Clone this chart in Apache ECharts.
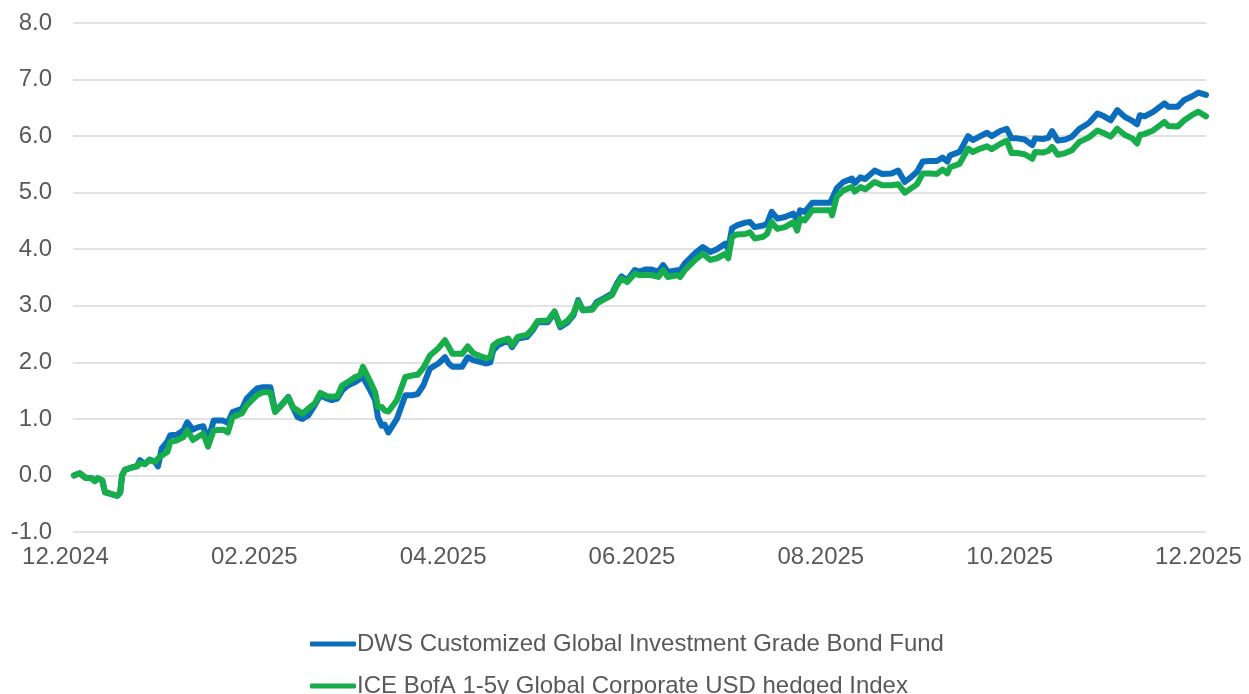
<!DOCTYPE html>
<html>
<head>
<meta charset="utf-8">
<script src="https://cdn.jsdelivr.net/npm/echarts@6/dist/echarts.min.js"></script>
<style>
html,body{margin:0;padding:0;background:#fff;}
#chart{width:1249px;height:694px;}
</style>
</head>
<body>
<div id="chart"></div>
<script>
// x positions in months since 12.2024
const months = [0.01,0.07,0.13,0.20,0.23,0.26,0.31,0.34,0.39,0.47,0.50,0.52,0.55,0.62,0.68,0.71,0.76,0.81,0.87,0.90,0.94,1.00,1.03,1.10,1.17,1.21,1.27,1.32,1.38,1.43,1.49,1.59,1.64,1.69,1.79,1.84,1.90,1.95,2.01,2.09,2.14,2.19,2.28,2.33,2.38,2.43,2.49,2.56,2.62,2.69,2.74,2.80,2.85,2.91,2.99,3.04,3.07,3.15,3.20,3.23,3.27,3.30,3.34,3.43,3.52,3.60,3.65,3.71,3.78,3.87,3.94,3.98,4.02,4.12,4.18,4.24,4.33,4.38,4.42,4.45,4.50,4.61,4.65,4.71,4.81,4.87,4.92,5.03,5.10,5.16,5.24,5.30,5.35,5.40,5.50,5.55,5.61,5.71,5.76,5.81,5.87,5.95,6.00,6.06,6.13,6.20,6.25,6.30,6.40,6.43,6.48,6.59,6.67,6.75,6.82,6.91,6.94,6.98,7.03,7.12,7.17,7.22,7.31,7.35,7.40,7.46,7.54,7.63,7.67,7.70,7.75,7.83,7.91,8.02,8.04,8.09,8.16,8.25,8.28,8.34,8.39,8.49,8.57,8.67,8.74,8.81,8.88,8.94,9.00,9.08,9.15,9.21,9.26,9.29,9.39,9.48,9.53,9.61,9.68,9.73,9.82,9.89,9.94,10.00,10.08,10.16,10.19,10.27,10.33,10.37,10.43,10.51,10.58,10.66,10.74,10.77,10.85,10.92,10.99,11.06,11.14,11.22,11.27,11.30,11.35,11.44,11.56,11.60,11.70,11.77,11.85,11.92,12.00];

const dwsFund = [0.0,0.04,-0.04,-0.05,-0.1,-0.05,-0.09,-0.3,-0.32,-0.36,-0.3,0.0,0.1,0.14,0.17,0.27,0.2,0.28,0.24,0.16,0.48,0.6,0.71,0.72,0.8,0.94,0.81,0.85,0.87,0.62,0.97,0.97,0.93,1.12,1.18,1.36,1.46,1.54,1.56,1.56,1.15,1.21,1.39,1.2,1.03,1.0,1.06,1.24,1.42,1.36,1.33,1.36,1.5,1.59,1.65,1.71,1.74,1.5,1.33,1.03,0.88,0.9,0.76,1.0,1.42,1.42,1.44,1.59,1.89,1.98,2.09,1.98,1.92,1.92,2.09,2.04,2.0,1.98,2.0,2.21,2.3,2.39,2.27,2.42,2.45,2.57,2.71,2.71,2.89,2.62,2.71,2.83,3.1,2.92,2.95,3.07,3.12,3.22,3.39,3.52,3.45,3.63,3.6,3.64,3.64,3.6,3.72,3.6,3.63,3.62,3.75,3.93,4.04,3.95,4.0,4.1,4.0,4.37,4.42,4.47,4.48,4.39,4.42,4.45,4.66,4.54,4.57,4.63,4.51,4.69,4.66,4.82,4.82,4.82,4.81,5.08,5.19,5.25,5.17,5.27,5.24,5.39,5.33,5.34,5.39,5.19,5.28,5.37,5.55,5.56,5.56,5.62,5.55,5.66,5.72,6.0,5.93,6.0,6.06,6.0,6.09,6.13,5.96,5.96,5.94,5.84,5.96,5.95,5.97,6.09,5.92,5.94,5.99,6.13,6.21,6.25,6.4,6.35,6.28,6.46,6.34,6.27,6.21,6.37,6.35,6.43,6.58,6.52,6.52,6.64,6.7,6.77,6.73];

const iceIndex = [0.0,0.04,-0.04,-0.05,-0.1,-0.05,-0.09,-0.3,-0.32,-0.36,-0.3,0.0,0.1,0.14,0.16,0.22,0.2,0.27,0.24,0.3,0.35,0.42,0.59,0.62,0.68,0.8,0.63,0.68,0.74,0.51,0.8,0.81,0.76,1.03,1.1,1.24,1.34,1.42,1.47,1.47,1.12,1.21,1.38,1.2,1.15,1.09,1.18,1.27,1.46,1.4,1.39,1.4,1.59,1.65,1.74,1.77,1.92,1.65,1.47,1.21,1.21,1.15,1.13,1.33,1.74,1.77,1.78,1.9,2.12,2.25,2.39,2.27,2.15,2.15,2.28,2.16,2.1,2.07,2.09,2.3,2.36,2.42,2.3,2.45,2.49,2.6,2.73,2.74,2.9,2.65,2.74,2.86,3.08,2.92,2.93,3.04,3.1,3.19,3.36,3.48,3.42,3.57,3.54,3.55,3.54,3.51,3.63,3.51,3.54,3.51,3.63,3.81,3.92,3.81,3.84,3.92,3.84,4.22,4.26,4.27,4.3,4.19,4.22,4.27,4.48,4.36,4.39,4.48,4.33,4.54,4.51,4.69,4.69,4.69,4.6,4.93,5.04,5.1,5.02,5.1,5.06,5.19,5.13,5.13,5.15,5.0,5.08,5.15,5.34,5.34,5.33,5.41,5.34,5.45,5.51,5.78,5.72,5.78,5.82,5.77,5.86,5.92,5.7,5.7,5.68,5.6,5.72,5.71,5.74,5.81,5.67,5.7,5.75,5.9,5.96,5.99,6.1,6.05,5.99,6.13,6.02,5.96,5.87,6.02,6.04,6.1,6.25,6.18,6.17,6.28,6.37,6.43,6.35];

const xTickLabels = ['12.2024','02.2025','04.2025','06.2025','08.2025','10.2025','12.2025'];
const seriesNames = ['DWS Customized Global Investment Grade Bond Fund','ICE BofA 1-5y Global Corporate USD hedged Index'];
const seriesColors = ['#0a6ebd', '#17ad4b'];

const pairs = arr => months.map((m, i) => [m, arr[i]]);
const font = 'Liberation Sans, Arial, sans-serif';
const textColor = '#595959';

const legendBase = {
  orient: 'horizontal', left: 305,
  itemWidth: 46, itemHeight: 5, icon: 'roundRect',
  textStyle: {color: textColor, fontFamily: font, fontSize: 24, padding: [0, 0, 0, -4]}
};

const chart = echarts.init(document.getElementById('chart'), null, {renderer: 'canvas'});
chart.setOption({
  animation: false,
  backgroundColor: '#ffffff',
  grid: {left: 73, right: 43, top: 23, bottom: 162, containLabel: false},
  xAxis: {
    type: 'value', min: 0, max: 12, interval: 2,
    axisLine: {show: false}, axisTick: {show: false}, splitLine: {show: false},
    axisLabel: {
      color: textColor, fontFamily: font, fontSize: 24, margin: 13,
      padding: [0, 15, 0, 0],
      formatter: v => xTickLabels[Math.round(v / 2)] || ''
    }
  },
  yAxis: {
    type: 'value', min: -1, max: 8, interval: 1,
    axisLine: {show: false}, axisTick: {show: false},
    splitLine: {lineStyle: {color: '#d9d9d9', width: 1.5}},
    axisLabel: {color: textColor, fontFamily: font, fontSize: 24, margin: 21,
      formatter: v => v.toFixed(1)}
  },
  legend: [
    Object.assign({}, legendBase, {top: 627, data: [seriesNames[0]]}),
    Object.assign({}, legendBase, {top: 669, data: [seriesNames[1]]})
  ],
  series: [
    {name: seriesNames[0], type: 'line', data: pairs(dwsFund), symbol: 'none',
      lineStyle: {color: seriesColors[0], width: 6, join: 'round', cap: 'round'}, itemStyle: {color: seriesColors[0]}},
    {name: seriesNames[1], type: 'line', data: pairs(iceIndex), symbol: 'none',
      lineStyle: {color: seriesColors[1], width: 6, join: 'round', cap: 'round'}, itemStyle: {color: seriesColors[1]}}
  ]
});
</script>
</body>
</html>
